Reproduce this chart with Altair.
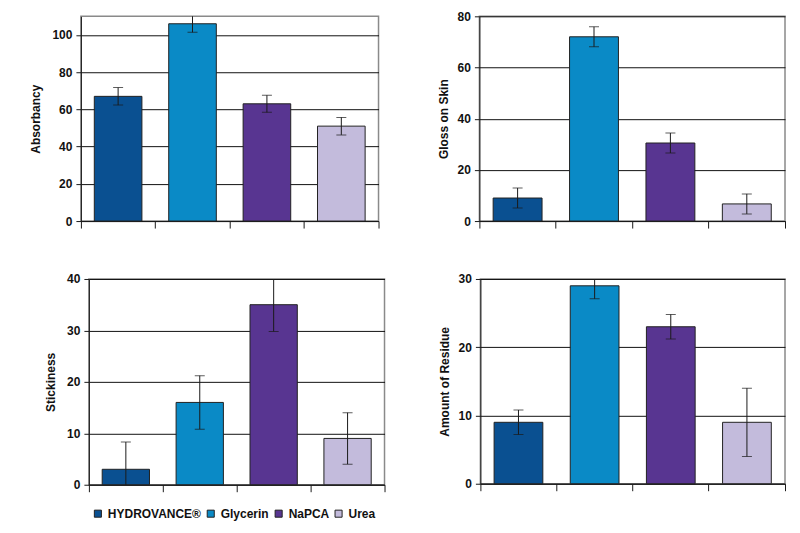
import altair as alt
import pandas as pd

categories = ["HYDROVANCE®", "Glycerin", "NaPCA", "Urea"]
colors = ["#0a5091", "#0a8ac6", "#583591", "#c3bbdc"]

absorbancy = [67, 106, 63, 51]
absorbancy_err = [4.7, 4.6, 4.6, 4.7]

gloss = [9, 72, 30.5, 6.7]
gloss_err = [3.9, 3.9, 3.9, 3.9]

stickiness = [3, 16, 35, 9]
stickiness_err = [5.3, 5.2, 5.2, 5.0]

residue = [9, 29, 23, 9]
residue_err = [1.8, 1.9, 1.8, 5.0]

FONT = "Liberation Sans"
INK = "#1a1a1a"


def panel(values, errs, title, ymax, step, width, height, title_pad, extent):
    df = pd.DataFrame({
        "Humectant": categories,
        "value": values,
        "lo": [v - e for v, e in zip(values, errs)],
        "hi": [v + e for v, e in zip(values, errs)],
    })
    x = alt.X(
        "Humectant:N",
        sort=categories,
        scale=alt.Scale(paddingInner=0, paddingOuter=0),
        axis=alt.Axis(
            labels=False, title=None, ticks=True, tickSize=7, bandPosition=1,
            tickExtra=True, grid=False, domainColor=INK, tickColor=INK,
            domainWidth=1, tickWidth=1,
        ),
    )
    yaxis = alt.Axis(
        values=list(range(0, ymax + 1, step)),
        title=title, titleFont=FONT, titleFontSize=12, titleFontWeight="bold",
        titleColor="#111", titlePadding=title_pad,
        labelFont=FONT, labelFontSize=12, labelFontWeight="bold", labelColor="#111",
        labelPadding=4, tickSize=5, tickColor=INK, domainColor=INK,
        grid=True, gridColor="#111", gridWidth=1,
        minExtent=extent, maxExtent=extent,
    )
    yscale = alt.Scale(domain=[0, ymax], nice=False)
    color = alt.Color(
        "Humectant:N",
        scale=alt.Scale(domain=categories, range=colors),
        legend=alt.Legend(
            title=None, orient="none", legendX=11, legendY=492,
            direction="horizontal", symbolType="square", symbolSize=50,
            symbolStrokeColor="#222", symbolStrokeWidth=1,
            labelFont=FONT, labelFontSize=12, labelFontWeight="bold",
            labelColor="#111", columnPadding=3, labelOffset=4, padding=0,
        ),
    )
    bars = alt.Chart(df).mark_bar(
        width=alt.RelativeBandSize(0.64), stroke="#222", strokeWidth=1
    ).encode(
        x=x,
        y=alt.Y("value:Q", scale=yscale, axis=yaxis),
        color=color,
    )
    rule = alt.Chart(df).mark_rule(color=INK, strokeWidth=1, clip=True).encode(
        x=x, y=alt.Y("lo:Q", title=title), y2="hi:Q"
    )
    cap_hi = alt.Chart(df).mark_tick(color=INK, size=10, thickness=1, clip=True).encode(
        x=x, y=alt.Y("hi:Q", title=title)
    )
    cap_lo = alt.Chart(df).mark_tick(color=INK, size=10, thickness=1, clip=True).encode(
        x=x, y=alt.Y("lo:Q", title=title)
    )
    return alt.layer(bars, rule, cap_hi, cap_lo).properties(width=width, height=height)


p1 = panel(absorbancy, absorbancy_err, "Absorbancy", 110, 20, 298, 205, 8, 30)
p2 = panel(gloss, gloss_err, "Gloss on Skin", 80, 20, 306, 205, 7, 22)
p3 = panel(stickiness, stickiness_err, "Stickiness", 40, 10, 296, 206, 9, 22)
p4 = panel(residue, residue_err, "Amount of Residue", 30, 10, 305, 205, 7, 22)

# invisible offset cell: the second row's first plot starts 8px right of the first row's
spacer = alt.Chart(pd.DataFrame({"s": [0]})).mark_point(opacity=0).encode(
    x=alt.value(0), y=alt.value(0)
).properties(width=8, height=10, view=alt.ViewBackground(stroke="transparent"))

row1 = alt.hconcat(p1, p2, spacing=56)
row2 = alt.hconcat(spacer, alt.hconcat(p3, p4, spacing=51), spacing=0, bounds="flush")

chart = alt.vconcat(row1, row2, spacing=42).properties(
    padding={"left": 21, "top": 1, "right": 5, "bottom": 5},
    background="white",
).configure_view(
    stroke="#8a8a8a", strokeWidth=1.5
)

chart.save("out.html", embed_options={"renderer": "svg", "actions": False})
